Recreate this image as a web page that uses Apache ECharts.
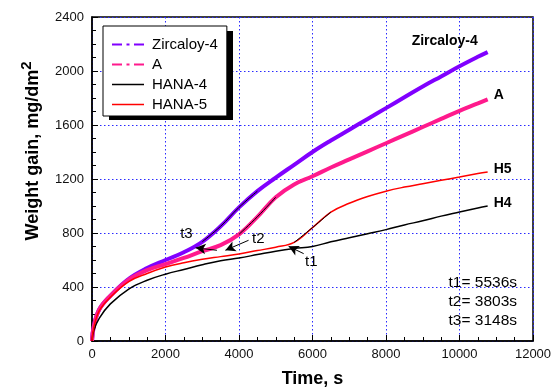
<!DOCTYPE html>
<html><head><meta charset="utf-8">
<script src="https://cdn.jsdelivr.net/npm/echarts@6/dist/echarts.min.js"></script>
<style>html,body{margin:0;padding:0;background:#fff}#c{width:555px;height:390px}</style>
</head><body><div id="c"></div>
<script>
const times = [0, 50, 200, 500, 1000, 1500, 2000, 2500, 3000, 3500, 4000, 4500, 5000, 5500, 6000, 6500, 7000, 7500, 8000, 8500, 9000, 9500, 10000, 10500, 10766];
const zircaloy4 = [0, 110, 235, 335, 460, 540, 600, 658, 735, 850, 990, 1110, 1210, 1305, 1400, 1485, 1565, 1645, 1725, 1805, 1885, 1960, 2035, 2105, 2140];
const alloyA    = [0, 110, 235, 335, 455, 525, 570, 615, 665, 710, 790, 920, 1065, 1160, 1220, 1285, 1345, 1405, 1465, 1525, 1585, 1645, 1705, 1760, 1790];
const hana4     = [0, 80, 170, 275, 385, 450, 495, 530, 565, 595, 615, 640, 665, 685, 700, 735, 765, 795, 825, 860, 890, 925, 955, 985, 1000];
const hana5     = [0, 100, 225, 325, 440, 500, 548, 580, 605, 625, 645, 670, 695, 730, 840, 955, 1020, 1070, 1110, 1140, 1165, 1190, 1215, 1240, 1252];
const seriesNames = ['Zircaloy-4', 'A', 'HANA-4', 'HANA-5'];
const endNames = ['Zircaloy-4', 'A', 'H4', 'H5'];
const xTicks = [0, 2000, 4000, 6000, 8000, 10000, 12000];
const yTicks = [0, 400, 800, 1200, 1600, 2000, 2400];
const tNotes = ['t1= 5536s', 't2= 3803s', 't3= 3148s'];
// fitted transition segments (index ranges into times)
const fitZ = [8, 11];
const fitA = [10, 12];
const fitH5 = [13, 15];
// arrows: [tail, head] in data units, label position
const arrows = [
  {name: 't3', from: [3400, 672], to: [2820, 690], label: [2570, 796]},
  {name: 't2', from: [4260, 746], to: [3630, 672], label: [4525, 760]},
  {name: 't1', from: [5760, 647], to: [5350, 701], label: [5965, 583]}
];

const FONT = 'Arial, "Liberation Sans", sans-serif';
function pairs(ys, a, b) {
  const out = [];
  for (let i = a; i <= b; i++) out.push([times[i], ys[i]]);
  return out;
}
const chart = echarts.init(document.getElementById('c'), null, {renderer: 'canvas'});
const colors = ['#8000ff', '#ff1a8c', '#000000', '#ff0000'];
const dataSets = [zircaloy4, alloyA, hana4, hana5];
const widths = [4, 4, 1.5, 1.5];
const endOffsets = [[-82, -11], [0, -4], [0, -3], [0, -3]];
const series = dataSets.map((ys, k) => ({
  name: seriesNames[k], type: 'line', smooth: 0.4, symbol: 'none',
  data: pairs(ys, 0, times.length - 1),
  lineStyle: {color: colors[k], width: widths[k]}, itemStyle: {color: colors[k]},
  z: 3 + (k >= 2 ? 1 : 0),
  endLabel: {show: true, formatter: endNames[k], color: '#000', fontFamily: FONT, fontWeight: 'bold', fontSize: 14, distance: 6, offset: endOffsets[k]}
}));
[[zircaloy4, fitZ], [alloyA, fitA], [hana5, fitH5]].forEach(([ys, r], i) => {
  series.push({name: 'fit' + i, type: 'line', smooth: 0.4, symbol: 'none',
    data: pairs(ys, r[0], r[1]), lineStyle: {color: '#000', width: 1}, z: 6, silent: true});
});
series.push({
  name: 'arrows', type: 'line', data: [], symbol: 'none', z: 7,
  markLine: {
    silent: true, symbol: ['none', 'arrow'], symbolSize: [8, 10],
    lineStyle: {color: '#000', width: 1, type: 'solid'}, label: {show: false},
    data: arrows.map(a => [{coord: a.from}, {coord: a.to}])
  }
});

// legend icons: line-style glyphs in a 35x14 box
const BOX = 'M0,0h0.01v0.01h-0.01z M34.99,13.99h0.01v0.01h-0.01z ';
const dashDot = 'path://' + BOX + 'M0,6h10v2h-10z M14.5,6h3v2h-3z M22,6h10v2h-10z';
const solid = 'path://' + BOX + 'M0,6.25h32v1.5h-32z';
const legendIcons = {'Zircaloy-4': dashDot, 'A': dashDot, 'HANA-4': solid, 'HANA-5': solid};
const plain = v => String(v);

const option = {
  animation: false,
  backgroundColor: '#fff',
  grid: {left: 92, right: 22, top: 17, bottom: 49, show: true, borderColor: '#000', borderWidth: 1.5,
    backgroundColor: 'transparent', containLabel: false, outerBoundsMode: 'none'},
  legend: {
    orient: 'vertical', left: 103, top: 26, itemWidth: 35, itemHeight: 14, itemGap: 5,
    padding: [11, 9, 4, 9], backgroundColor: '#fff', borderColor: '#000', borderWidth: 1,
    symbolKeepAspect: true, z: 5,
    textStyle: {fontFamily: FONT, fontSize: 15, color: '#000'},
    data: seriesNames.map((n, k) => ({name: n, icon: legendIcons[n], itemStyle: {color: colors[k], borderWidth: 0}}))
  },
  xAxis: {
    type: 'value', min: xTicks[0], max: xTicks[xTicks.length - 1], interval: 2000,
    name: 'Time, s', nameLocation: 'middle', nameGap: 29,
    nameTextStyle: {fontFamily: FONT, fontSize: 18, fontWeight: 'bold', color: '#000'},
    axisLine: {show: true, lineStyle: {color: '#000', width: 1.5}},
    axisTick: {show: true, inside: true, length: 6, lineStyle: {color: '#000', width: 1}},
    minorTick: {show: true, splitNumber: 4, length: 4, lineStyle: {color: '#000', width: 1}},
    axisLabel: {fontFamily: FONT, fontSize: 13, color: '#111', margin: 7, formatter: plain},
    splitLine: {show: true, lineStyle: {color: '#2a2aff', width: 1, type: [1.5, 2.5]}}
  },
  yAxis: {
    type: 'value', min: yTicks[0], max: yTicks[yTicks.length - 1], interval: 400,
    axisLine: {show: true, lineStyle: {color: '#000', width: 1.5}},
    axisTick: {show: true, inside: true, length: 6, lineStyle: {color: '#000', width: 1}},
    minorTick: {show: true, splitNumber: 4, length: 4, lineStyle: {color: '#000', width: 1}},
    axisLabel: {fontFamily: FONT, fontSize: 13, color: '#111', margin: 8, formatter: plain},
    splitLine: {show: true, lineStyle: {color: '#2a2aff', width: 1, type: [1.5, 2.5]}}
  },
  series: series
};
chart.setOption(option);

const graphics = [];
// legend drop shadow
graphics.push({type: 'rect', z: 4, zlevel: 0, silent: true,
  shape: {x: 109, y: 31, width: 124, height: 89}, style: {fill: '#000'}});
graphics.push({
  type: 'text', x: 33, y: 151, rotation: Math.PI / 2, z: 10,
  style: {
    text: '{a|Weight gain, mg/dm}{b|2}', align: 'center', verticalAlign: 'middle',
    rich: {
      a: {fontFamily: FONT, fontSize: 18, fontWeight: 'bold', fill: '#000'},
      b: {fontFamily: FONT, fontSize: 15, fontWeight: 'bold', fill: '#000', padding: [0, 0, 12, 0]}
    }
  }
});
tNotes.forEach((t, i) => {
  graphics.push({type: 'text', x: 517, y: 282.5 + i * 19.3, z: 10,
    style: {text: t, align: 'right', verticalAlign: 'middle', fontFamily: FONT, fontSize: 15.5, fill: '#000'}});
});
arrows.forEach(a => {
  const p = chart.convertToPixel({gridIndex: 0}, a.label);
  graphics.push({type: 'text', x: p[0], y: p[1], z: 10,
    style: {text: a.name, align: 'center', verticalAlign: 'middle', fontFamily: FONT, fontSize: 15, fill: '#000'}});
});
chart.setOption({graphic: graphics});
</script></body></html>
